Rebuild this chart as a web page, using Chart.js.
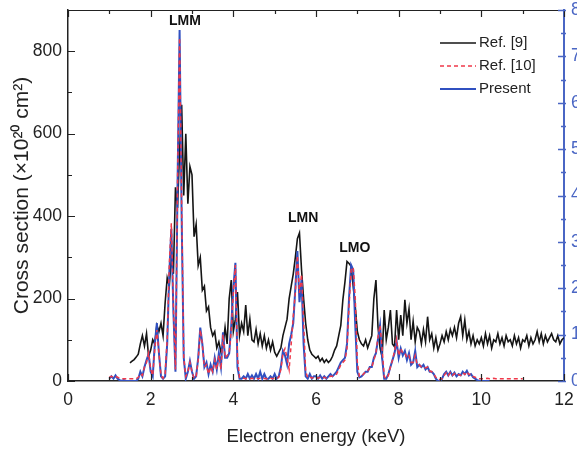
<!DOCTYPE html>
<html>
<head>
<meta charset="utf-8">
<script src="https://cdn.jsdelivr.net/npm/chart.js@4.4.0/dist/chart.umd.min.js"></script>
<style>
  html, body { margin: 0; padding: 0; background: #fff; overflow: hidden; }
  #wrap { width: 600px; height: 455px; }
</style>
</head>
<body>
<div id="wrap"><canvas id="chart" width="600" height="455"></canvas></div>
<script>
// energy grids (keV): start and step of each sampled curve
const ref9Start = 1.5;
const ref10Start = 1.0;
const presentStart = 1.0;
const energyStep = 0.05;

// Ref. [9], left axis (x10^20 cm^2), 1.50 .. 12.00 keV
const ref9 = [
  44, 48, 52, 58, 65, 90, 110, 85, 115, 60,
  75, 100, 90, 135, 120, 140, 110, 190, 250, 230,
  300, 260, 470, 420, 560, 670, 450, 600, 430, 520,
  500, 350, 380, 280, 300, 220, 230, 170, 180, 130,
  110, 120, 80, 95, 70, 85, 130, 90, 200, 245,
  120, 150, 216, 110, 140, 120, 184, 110, 150, 100,
  95, 125, 90, 115, 85, 110, 80, 100, 75, 95,
  70, 60, 70, 80, 110, 130, 150, 200, 230, 260,
  300, 345, 359, 270, 200, 140, 100, 75, 65, 60,
  55, 60, 48, 55, 45, 52, 45, 50, 60, 75,
  85, 110, 135, 197, 240, 290, 285, 278, 230, 180,
  120, 100, 90, 85, 100, 80, 95, 110, 200, 245,
  131, 80, 58, 172, 100, 130, 172, 90, 83, 172,
  100, 160, 110, 197, 140, 175, 100, 145, 95, 130,
  120, 90, 125, 95, 156, 100, 115, 80, 105, 75,
  90, 110, 95, 120, 100, 125, 110, 130, 105, 140,
  156, 110, 148, 100, 120, 90, 110, 85, 100, 90,
  105, 85, 115, 90, 110, 80, 100, 95, 115, 90,
  105, 85, 110, 95, 100, 85, 110, 90, 105, 80,
  100, 95, 110, 85, 105, 90, 100, 120, 95, 115,
  90, 110, 95, 105, 115, 100, 95, 110, 90, 100,
  105
];

// Ref. [10], right axis, 1.00 .. 11.00 keV
const ref10 = [
  0.08, 0.1, 0.08, 0.1, 0.08, 0.06, 0.05, 0.05, 0.05, 0.05,
  0.05, 0.05, 0.05, 0.05, 0.08, 0.15, 0.12, 0.3, 0.4, 0.6,
  0.25, 0.12, 0.7, 1.1, 0.6, 0.12, 0.06, 0.15, 0.9, 2.5,
  3.4, 1.6, 0.25, 4.3, 7.4, 3.8, 0.5, 0.1, 0.2, 0.4,
  0.2, 0.06, 0.1, 0.45, 1.1, 0.8, 0.3, 0.35, 0.15, 0.3,
  0.2, 0.45, 0.25, 0.55, 0.25, 1.0, 0.5, 0.55, 0.6, 1.1,
  1.9, 2.5, 0.5, 0.08, 0.06, 0.06, 0.05, 0.06, 0.05, 0.06,
  0.05, 0.06, 0.05, 0.06, 0.05, 0.06, 0.05, 0.05, 0.06, 0.05,
  0.06, 0.05, 0.08, 0.25, 0.6, 0.7, 0.5, 0.25, 0.8, 1.4,
  1.9, 2.7, 1.9, 2.3, 1.3, 0.2, 0.08, 0.1, 0.06, 0.08,
  0.08, 0.06, 0.08, 0.06, 0.08, 0.06, 0.08, 0.1, 0.1, 0.12,
  0.15, 0.25, 0.35, 0.4, 0.45, 0.7, 1.6, 2.4, 2.45, 1.8,
  0.4, 0.1, 0.1, 0.15, 0.2, 0.22, 0.28, 0.3, 0.45, 0.6,
  0.95, 1.2, 0.7, 0.1, 0.05, 0.12, 0.3, 0.45, 0.65, 0.9,
  0.55, 0.7, 0.6, 0.6, 0.5, 0.55, 0.4, 0.4, 0.55, 0.35,
  0.35, 0.3, 0.3, 0.28, 0.3, 0.22, 0.2, 0.15, 0.08, 0.03,
  0.03, 0.05, 0.12, 0.18, 0.12, 0.18, 0.12, 0.16, 0.12, 0.14,
  0.12, 0.18, 0.14, 0.2, 0.14, 0.15, 0.1, 0.08, 0.06, 0.05,
  0.05, 0.05, 0.05, 0.06, 0.05, 0.05, 0.06, 0.05, 0.05, 0.05,
  0.05, 0.05, 0.05, 0.05, 0.05, 0.05, 0.05, 0.05, 0.05, 0.05,
  0.05
];

// Present, right axis, 1.00 .. 10.20 keV
const present = [
  0.05, 0.1, 0.05, 0.12, 0.05, 0.02, 0, 0.02, 0, 0,
  0, 0, 0, 0, 0.05, 0.2, 0.1, 0.3, 0.45, 0.58,
  0.2, 0.1, 0.8, 1.25, 0.6, 0.1, 0.05, 0.1, 0.8, 2.3,
  3.28, 1.5, 0.2, 4.2, 7.57, 3.5, 0.5, 0.05, 0.2, 0.43,
  0.2, 0.05, 0.1, 0.5, 1.15, 0.8, 0.3, 0.4, 0.15, 0.35,
  0.2, 0.5, 0.25, 0.6, 0.3, 1.05, 0.5, 0.5, 0.6, 1.2,
  2.0, 2.55, 0.3, 0.05, 0.05, 0.1, 0.05, 0.15, 0.05, 0.12,
  0.05, 0.15, 0.05, 0.2, 0.05, 0.15, 0.05, 0.05, 0.1, 0.05,
  0.15, 0.05, 0.1, 0.3, 0.65, 0.55, 0.36, 0.8, 1.0, 1.25,
  2.0, 2.8, 1.7, 2.2, 0.8, 0.1, 0.05, 0.15, 0.05, 0.1,
  0.1, 0.05, 0.12, 0.05, 0.1, 0.05, 0.1, 0.15, 0.1, 0.15,
  0.2, 0.3, 0.4, 0.45, 0.5, 0.8, 1.8, 2.5, 2.4, 1.2,
  0.2, 0.08, 0.1, 0.15, 0.2, 0.2, 0.3, 0.3, 0.5, 0.6,
  0.9, 1.2, 0.5, 0.05, 0.05, 0.15, 0.3, 0.45, 0.6, 0.86,
  0.5, 0.7, 0.55, 0.65, 0.45, 0.6, 0.35, 0.4, 0.65, 0.3,
  0.35, 0.3, 0.35, 0.25, 0.3, 0.2, 0.2, 0.15, 0.05, 0,
  0, 0.05, 0.15, 0.2, 0.12, 0.2, 0.12, 0.18, 0.1, 0.15,
  0.12, 0.2, 0.15, 0.22, 0.12, 0.15, 0.08, 0.05, 0.02, 0,
  0, 0, 0, 0, 0
];

// peak annotations (energy keV, left-axis value)
const peakNames = ['LMM', 'LMN', 'LMO'];
const peakEnergy = [2.83, 5.69, 6.94];
const peakLevel = [872, 396, 323];

const FONT = "'Liberation Sans', Arial, sans-serif";
Chart.defaults.font.family = FONT;

function toPoints(start, values) {
  return values.map((v, i) => ({ x: +(start + i * energyStep).toFixed(2), y: v }));
}

const BLUE = '#3050c0';
const AXIS_BLUE = '#4a66c4';

// no extra room for half tick labels at the plot ends
function noEdgePadding(s) {
  s.paddingTop = 0;
  s.paddingBottom = 0;
  s.paddingLeft = 0;
  s.paddingRight = 0;
}

// inward tick marks and the top frame line
const tickMarks = {
  id: 'tickMarks',
  afterDatasetsDraw(chart) {
    const { ctx, chartArea: a, scales } = chart;
    ctx.save();
    ctx.lineWidth = 1.2;
    ctx.strokeStyle = '#222';
    ctx.beginPath();
    ctx.moveTo(a.left, a.top + 0.5);
    ctx.lineTo(a.right, a.top + 0.5);
    for (let v = 0; v <= 12; v += 1) {
      const px = Math.round(scales.x.getPixelForValue(v)) + 0.5;
      const len = v % 2 === 0 ? 7 : 4;
      ctx.moveTo(px, a.bottom);
      ctx.lineTo(px, a.bottom - len);
      ctx.moveTo(px, a.top);
      ctx.lineTo(px, a.top + len);
    }
    for (let v = 0; v <= 900; v += 100) {
      const py = Math.round(scales.y.getPixelForValue(v)) + 0.5;
      const len = v % 200 === 0 ? 7 : 4;
      ctx.moveTo(a.left, py);
      ctx.lineTo(a.left + len, py);
    }
    ctx.stroke();
    ctx.strokeStyle = AXIS_BLUE;
    ctx.lineWidth = 1.5;
    ctx.beginPath();
    for (let v = 0; v <= 8; v += 0.5) {
      const py = Math.round(scales.y1.getPixelForValue(v)) + 0.5;
      const len = v % 1 === 0 ? 6 : 3;
      ctx.moveTo(a.right + 2, py);
      ctx.lineTo(a.right - len, py);
    }
    ctx.stroke();
    ctx.restore();
  }
};

// peak names above the curves
const peakText = {
  id: 'peakText',
  afterDraw(chart) {
    const { ctx, scales } = chart;
    ctx.save();
    ctx.font = 'bold 14px ' + FONT;
    ctx.fillStyle = '#111';
    ctx.textAlign = 'center';
    ctx.textBaseline = 'middle';
    peakNames.forEach((name, i) => {
      ctx.fillText(name, scales.x.getPixelForValue(peakEnergy[i]), scales.y.getPixelForValue(peakLevel[i]));
    });
    ctx.restore();
  }
};

// legend box in the top right of the plot
const insideLegend = {
  id: 'insideLegend',
  afterDraw(chart) {
    const { ctx, chartArea: a } = chart;
    ctx.save();
    ctx.font = '15px ' + FONT;
    ctx.textBaseline = 'middle';
    chart.data.datasets.forEach((ds, i) => {
      const y = a.top + 33 + i * 23;
      ctx.strokeStyle = ds.borderColor;
      ctx.lineWidth = ds.borderWidth;
      ctx.setLineDash(ds.borderDash || []);
      ctx.beginPath();
      ctx.moveTo(a.right - 124, y);
      ctx.lineTo(a.right - 88, y);
      ctx.stroke();
      ctx.fillStyle = '#222';
      ctx.fillText(ds.label, a.right - 85, y);
    });
    ctx.restore();
  }
};

new Chart(document.getElementById('chart'), {
  type: 'line',
  data: {
    datasets: [
      {
        label: 'Ref. [9]',
        data: toPoints(ref9Start, ref9),
        yAxisID: 'y',
        borderColor: '#151515',
        borderWidth: 1.6,
        order: 3
      },
      {
        label: 'Ref. [10]',
        data: toPoints(ref10Start, ref10),
        yAxisID: 'y1',
        borderColor: '#f0394a',
        borderWidth: 1.5,
        borderDash: [4, 3],
        order: 1
      },
      {
        label: 'Present',
        data: toPoints(presentStart, present),
        yAxisID: 'y1',
        borderColor: BLUE,
        borderWidth: 2,
        order: 2
      }
    ]
  },
  options: {
    responsive: false,
    animation: false,
    parsing: false,
    layout: { padding: { top: 10, left: 0, right: 0, bottom: 0 } },
    elements: { point: { radius: 0 }, line: { tension: 0 } },
    plugins: { legend: { display: false }, tooltip: { enabled: false } },
    scales: {
      x: {
        type: 'linear',
        position: 'bottom',
        min: 0,
        max: 12,
        ticks: { stepSize: 2, color: '#222', font: { size: 17.5 }, padding: 9 },
        grid: { drawOnChartArea: false, drawTicks: false },
        border: { color: '#222', width: 1.5 },
        title: { display: true, text: 'Electron energy (keV)', color: '#222', font: { size: 18.5 }, padding: { top: 8, bottom: 7 } },
        afterFit: (s) => { s.height = 74; noEdgePadding(s); }
      },
      y: {
        position: 'left',
        min: 0,
        max: 900,
        ticks: { stepSize: 200, includeBounds: false, color: '#222', font: { size: 17.5 }, padding: 6 },
        grid: { drawOnChartArea: false, drawTicks: false },
        border: { color: '#222', width: 1.5 },
        title: { display: true, text: 'Cross section (×10²⁰ cm²)', color: '#222', font: { size: 21 }, padding: { top: 10, bottom: 4 } },
        afterFit: (s) => { s.width = 68; noEdgePadding(s); }
      },
      y1: {
        position: 'right',
        min: 0,
        max: 8,
        ticks: { stepSize: 1, color: AXIS_BLUE, font: { size: 17.5 }, padding: 7 },
        grid: { drawOnChartArea: false, drawTicks: false },
        border: { color: AXIS_BLUE, width: 2 },
        afterFit: (s) => { s.width = 36; noEdgePadding(s); }
      }
    }
  },
  plugins: [tickMarks, peakText, insideLegend]
});
</script>
</body>
</html>
